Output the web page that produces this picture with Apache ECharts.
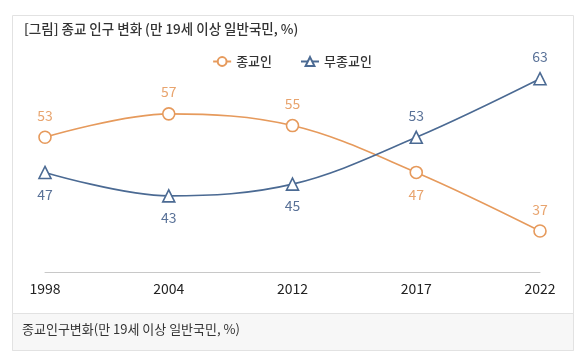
<!DOCTYPE html>
<html><head><meta charset="utf-8">
<script src="https://cdn.jsdelivr.net/npm/echarts@6/dist/echarts.min.js"></script>
<style>html,body{margin:0;padding:0;background:#fff}#c{width:584px;height:363px}</style>
</head><body><div id="c"></div>
<script>
const years = ['1998','2004','2012','2017','2022'];
const religious = [53, 57, 55, 47, 37];
const nonReligious = [47, 43, 45, 53, 63];
const seriesNames = ['종교인', '무종교인'];
const titleText = '[그림] 종교 인구 변화 (만 19세 이상 일반국민, %)';
const captionText = '종교인구변화(만 19세 이상 일반국민, %)';

const FONT = '"Noto Sans CJK KR", "Noto Sans", sans-serif';
const ORANGE = '#e69a5c', BLUE = '#4b6a93';
const chart = echarts.init(document.getElementById('c'), null, {renderer: 'canvas'});
chart.setOption({
  animation: false,
  textStyle: {fontFamily: FONT},
  graphic: [
    {type: 'rect', shape: {x: 12.5, y: 15.5, width: 561, height: 335}, style: {fill: '#fff', stroke: '#e2e2e2', lineWidth: 1}, z: -10},
    {type: 'rect', shape: {x: 12.5, y: 313.5, width: 561, height: 37}, style: {fill: '#f7f7f7', stroke: '#e2e2e2', lineWidth: 1}, z: -9},
    {type: 'text', left: 22, top: 323, style: {text: captionText, fill: '#333', font: '13px ' + FONT}},
    {type: 'text', left: 24, top: 22, style: {text: titleText, fill: '#333', font: '500 13.5px ' + FONT}}
  ],
  legend: {
    top: 50, left: 'center', itemGap: 28, itemWidth: 18, itemHeight: 11,
    textStyle: {fontSize: 13, fontWeight: 500, color: '#333', fontFamily: FONT},
    data: [{name: seriesNames[0]}, {name: seriesNames[1]}]
  },
  grid: {left: 45, right: 44, top: 67, bottom: 91},
  xAxis: {
    type: 'category', data: years, boundaryGap: false,
    axisLine: {lineStyle: {color: '#c8c8c8', width: 1}},
    axisTick: {show: false},
    axisLabel: {color: '#222', fontSize: 14, margin: 10, fontFamily: FONT}
  },
  yAxis: {type: 'value', min: 30, max: 65, show: false, splitLine: {show: false}},
  series: [
    {
      name: seriesNames[0], type: 'line', smooth: 0.35,
      symbol: 'circle', symbolSize: 12,
      lineStyle: {color: ORANGE, width: 1.6},
      itemStyle: {color: '#fff', borderColor: ORANGE, borderWidth: 1.6},
      label: {show: true, distance: 8, color: '#e8a46e', fontSize: 14},
      data: religious.map((v, i) => ({value: v, label: {position: i === 3 ? 'bottom' : 'top'}}))
    },
    {
      name: seriesNames[1], type: 'line', smooth: 0.35,
      symbol: 'triangle', symbolSize: 12,
      lineStyle: {color: BLUE, width: 1.6},
      itemStyle: {color: '#fff', borderColor: BLUE, borderWidth: 1.6},
      label: {show: true, distance: 8, color: '#5a7298', fontSize: 14},
      data: nonReligious.map((v, i) => ({value: v, label: {position: i >= 3 ? 'top' : 'bottom'}}))
    }
  ]
});
</script></body></html>
